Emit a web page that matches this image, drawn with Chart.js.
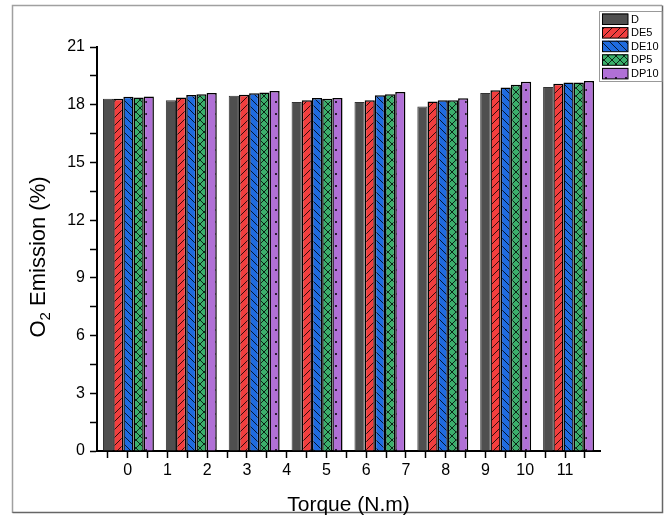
<!DOCTYPE html>
<html>
<head>
<meta charset="utf-8">
<script src="https://cdn.jsdelivr.net/npm/chart.js@4"></script>
<style>
  body { margin: 0; background: #fff; }
  canvas { display: block; }
</style>
</head>
<body>
<canvas id="myChart" width="671" height="517"></canvas>
<script>
// groups along the torque axis (8 groups of bars)
const grupos = ["g1", "g2", "g3", "g4", "g5", "g6", "g7", "g8"];

const serieD    = [18.31, 18.23, 18.47, 18.14, 18.14, 17.91, 18.61, 18.92];
const serieDE5  = [18.31, 18.37, 18.52, 18.23, 18.23, 18.17, 18.75, 19.09];
const serieDE10 = [18.42, 18.50, 18.59, 18.35, 18.49, 18.23, 18.90, 19.16];
const serieDP5  = [18.37, 18.54, 18.64, 18.31, 18.55, 18.23, 19.04, 19.16];
const serieDP10 = [18.43, 18.61, 18.71, 18.35, 18.66, 18.33, 19.20, 19.23];

const xTicks = [0, 1, 2, 3, 4, 5, 6, 7, 8, 9, 10, 11];
const yTicks = [0, 3, 6, 9, 12, 15, 18, 21];

// fill patterns like the origin hatches
function patron(color, tipo) {
    const c = document.createElement("canvas");
    const w = tipo === "dots" ? 10 : 8;
    const h = tipo === "dots" ? 12 : 8;
    c.width = w;
    c.height = h;
    const g = c.getContext("2d");
    g.fillStyle = color;
    g.fillRect(0, 0, w, h);
    g.strokeStyle = "#000";
    g.fillStyle = "#000";
    g.lineWidth = 0.8;
    if (tipo === "slash" || tipo === "cross") {
        g.beginPath();
        g.moveTo(-1, h + 1); g.lineTo(w + 1, -1);
        g.stroke();
    }
    if (tipo === "back" || tipo === "cross") {
        g.beginPath();
        g.moveTo(-1, -1); g.lineTo(w + 1, h + 1);
        g.stroke();
    }
    if (tipo === "dots") {
        g.beginPath();
        g.arc(6, 6, 1, 0, Math.PI * 2);
        g.fill();
    }
    return g.createPattern(c, "repeat");
}

const marco = {
    id: "marco",
    beforeDraw(chart) {
        const g = chart.ctx;
        g.save();
        g.lineWidth = 1.5;
        g.strokeStyle = "#a0a0a0";
        g.beginPath();
        g.moveTo(12.5, 513); g.lineTo(12.5, 5.5); g.lineTo(662, 5.5);
        g.stroke();
        g.strokeStyle = "#666";
        g.beginPath();
        g.moveTo(662.5, 5.5); g.lineTo(662.5, 512.5); g.lineTo(12.5, 512.5);
        g.stroke();
        g.restore();
    },
    afterDraw(chart) {
        const g = chart.ctx;
        const a = chart.chartArea;
        g.save();
        g.fillStyle = "#000";
        g.font = "21px 'Liberation Sans', Arial, sans-serif";
        g.textAlign = "center";
        g.textBaseline = "alphabetic";
        g.fillText("Torque (N.m)", (a.left + a.right) / 2, 511);

        // y title with subscript
        g.translate(45, 257);
        g.rotate(-Math.PI / 2);
        g.textAlign = "left";
        const big = "22px 'Liberation Sans', Arial, sans-serif";
        const small = "15px 'Liberation Sans', Arial, sans-serif";
        g.font = big;
        const w1 = g.measureText("O").width;
        const w3 = g.measureText(" Emission (%)").width;
        g.font = small;
        const w2 = g.measureText("2").width;
        let x = -(w1 + w2 + w3) / 2;
        g.font = big;
        g.fillText("O", x, 0);
        x += w1;
        g.font = small;
        g.fillText("2", x, 5);
        x += w2;
        g.font = big;
        g.fillText(" Emission (%)", x, 0);
        g.restore();

        // legend
        g.save();
        g.fillStyle = "#fff";
        g.fillRect(600, 11, 62, 70);
        g.strokeStyle = "#999";
        g.lineWidth = 1;
        g.strokeRect(599.5, 11.5, 62.5, 70);
        g.font = "11px 'Liberation Sans', Arial, sans-serif";
        g.textBaseline = "middle";
        chart.data.datasets.forEach((ds, i) => {
            const y0 = 13.5 + i * 13.6;
            g.fillStyle = ds.backgroundColor;
            g.fillRect(602, y0, 26, 11);
            g.strokeStyle = "#000";
            g.strokeRect(602.5, y0 + 0.5, 25.5, 10.5);
            g.fillStyle = "#000";
            g.fillText(ds.label, 631, y0 + 6);
        });
        g.restore();
    }
};

const ctx = document.getElementById("myChart");

new Chart(ctx, {
    type: "bar",
    data: {
        labels: grupos,
        datasets: [
            { label: "D", data: serieD, backgroundColor: "#4f4f4f", borderColor: "#333", borderWidth: 1 },
            { label: "DE5", data: serieDE5, backgroundColor: patron("#F23E3E", "slash"), borderColor: "#000", borderWidth: 1.5 },
            { label: "DE10", data: serieDE10, backgroundColor: patron("#1F6BE0", "back"), borderColor: "#000", borderWidth: 1.5 },
            { label: "DP5", data: serieDP5, backgroundColor: patron("#3BAF6B", "cross"), borderColor: "#000", borderWidth: 1.5 },
            { label: "DP10", data: serieDP10, backgroundColor: patron("#B070D6", "dots"), borderColor: "#000", borderWidth: 1.5 },
        ],
    },
    options: {
        responsive: false,
        animation: false,
        layout: { padding: { top: 47, right: 71, left: 0, bottom: 0 } },
        datasets: { bar: { categoryPercentage: 0.81, barPercentage: 1.0 } },
        scales: {
            x: {
                type: "category",
                display: false,
                offset: true,
            },
            xt: {
                type: "linear",
                position: "bottom",
                offset: false,
                bounds: "data",
                min: -0.772,
                max: 11.88,
                afterBuildTicks: (s) => {
                    const t = [];
                    xTicks.forEach((v) => { t.push({ value: v - 0.5 }); t.push({ value: v }); });
                    t.push({ value: 11.5 });
                    s.ticks = t;
                },
                afterFit: (s) => { s.height = 66; },
                border: { display: true, color: "#000", width: 2 },
                grid: { offset: false, drawOnChartArea: false, color: "#000", tickLength: 7, tickWidth: 1.5 },
                ticks: {
                    autoSkip: false,
                    maxRotation: 0,
                    padding: 3,
                    color: "#000",
                    font: { family: "'Liberation Sans', Arial", size: 16 },
                    callback: (v) => (Number.isInteger(v) ? String(v) : ""),
                },
            },
            y: {
                min: 0,
                max: 21,
                afterBuildTicks: (s) => {
                    const t = [];
                    yTicks.forEach((v, i) => {
                        t.push({ value: v });
                        if (i < yTicks.length - 1) t.push({ value: v + 1.5 });
                    });
                    s.ticks = t;
                },
                afterFit: (s) => { s.width = 97; },
                border: { display: true, color: "#000", width: 2 },
                grid: { drawOnChartArea: false, color: "#000", tickLength: 7, tickWidth: 1.5 },
                ticks: {
                    autoSkip: false,
                    padding: 5,
                    color: "#000",
                    font: { family: "'Liberation Sans', Arial", size: 16 },
                    callback: (v) => (yTicks.includes(v) ? String(v) : ""),
                },
            },
        },
        plugins: {
            legend: { display: false },
            tooltip: { enabled: false },
        },
    },
    plugins: [marco],
});
</script>
</body>
</html>
